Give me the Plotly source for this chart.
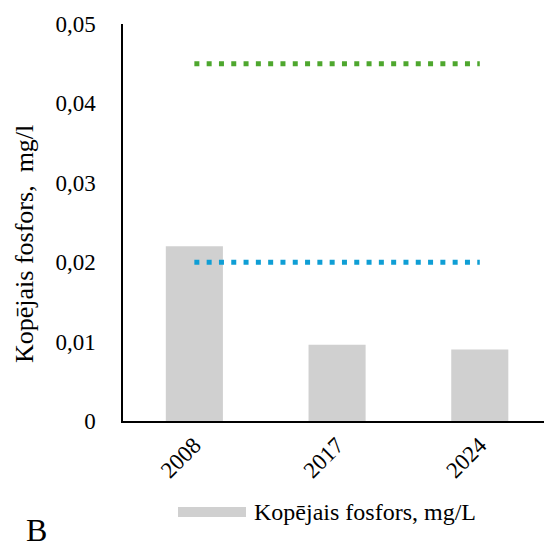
import plotly.graph_objects as go

years = ["2008", "2017", "2024"]
phosphorus = [0.022, 0.0096, 0.009]
limit_green = [0.045, 0.045, 0.045]
limit_blue = [0.02, 0.02, 0.02]
ytick_vals = [0, 0.01, 0.02, 0.03, 0.04, 0.05]
ytick_text = ["0", "0,01", "0,02", "0,03", "0,04", "0,05"]

FONT = "Liberation Serif"

L, R, T, B = 123, 0, 24, 130
PW, PH = 544 - L - R, 551 - T - B


def px(x):
    return (x - L) / PW


def py(y):
    return (551 - B - y) / PH


fig = go.Figure()
fig.add_trace(go.Bar(x=years, y=phosphorus, marker=dict(color="#d0d0d0", line=dict(width=0)),
                     width=0.4, showlegend=False, name="Kopējais fosfors, mg/L"))
fig.add_trace(go.Scatter(x=years, y=limit_green, mode="lines",
                         line=dict(color="#4EA72E", width=5, dash="5px,7.3px"), showlegend=False))
fig.add_trace(go.Scatter(x=years, y=limit_blue, mode="lines",
                         line=dict(color="#0F9ED5", width=5, dash="5px,7.3px"), showlegend=False))

fig.update_layout(
    width=544, height=551,
    margin=dict(l=L, r=R, t=T, b=B),
    paper_bgcolor="white", plot_bgcolor="white",
    font=dict(family=FONT, color="black"),
    xaxis=dict(type="category", range=[-0.5, 2.45], showline=True, linecolor="black", linewidth=1.5,
               ticks="", tickangle=-45, tickfont=dict(size=23, family=FONT), showgrid=False,
               zeroline=False),
    yaxis=dict(range=[0, 0.05], tickvals=ytick_vals, ticktext=ytick_text, showline=True,
               linecolor="black", linewidth=1.5, ticks="", showgrid=False, zeroline=False,
               tickfont=dict(size=23, family=FONT), ticklabelstandoff=21),
)

# y-axis title
fig.add_annotation(text="Kopējais fosfors,\u00a0 mg/l", xref="paper", yref="paper",
                   x=px(24), y=py(244), xanchor="center", yanchor="middle", textangle=-90,
                   showarrow=False, font=dict(size=26, family=FONT, color="black"))

# legend (manual)
fig.add_shape(type="rect", xref="paper", yref="paper",
              x0=px(178), x1=px(246), y0=py(517), y1=py(507),
              fillcolor="#d0d0d0", line=dict(width=0))
fig.add_annotation(text="Kopējais fosfors, mg/L", xref="paper", yref="paper",
                   x=px(252), y=py(512), xanchor="left", yanchor="middle",
                   showarrow=False, font=dict(size=24, family=FONT, color="black"))
fig.add_annotation(text="B", xref="paper", yref="paper",
                   x=px(24), y=py(530), xanchor="left", yanchor="middle",
                   showarrow=False, font=dict(size=32, family=FONT, color="black"))

fig.write_html("out.html")
